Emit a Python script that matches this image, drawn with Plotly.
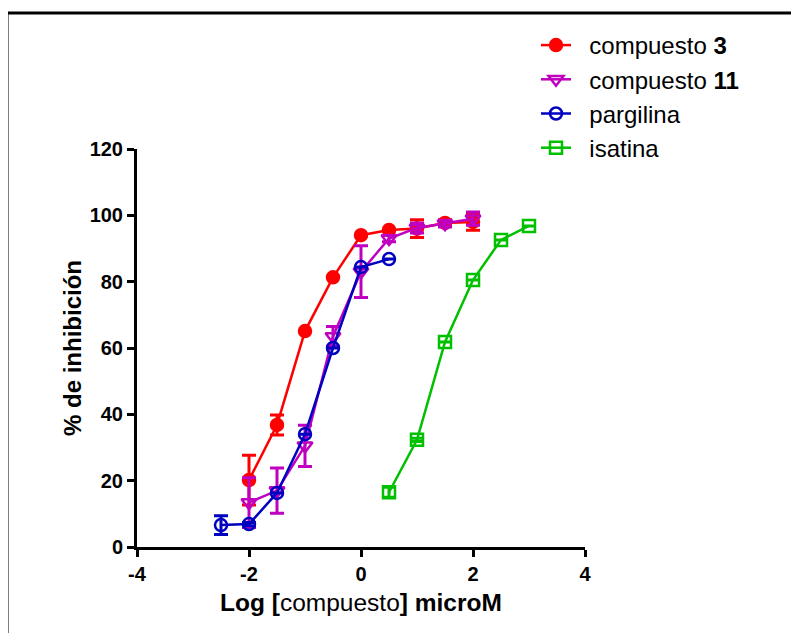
import plotly.graph_objects as go

# --- data ---
x_c3 = [-2, -1.5, -1, -0.5, 0, 0.5, 1, 1.5, 2]
y_c3 = [20.2, 36.8, 65.1, 81.3, 94.0, 95.6, 96.0, 97.7, 98.0]
e_c3 = [7.5, 3.0, 0, 0, 0, 0, 2.7, 1.0, 2.5]

x_c11 = [-2, -1.5, -1, -0.5, 0, 0.5, 1, 1.5, 2]
y_c11 = [13.4, 17.0, 30.5, 63.5, 83.0, 93.0, 96.2, 97.5, 99.0]
e_c11 = [7.5, 6.8, 6.2, 3.0, 7.8, 1.0, 1.5, 1.0, 2.0]

x_parg = [-2.5, -2, -1.5, -1, -0.5, 0, 0.5]
y_parg = [6.6, 6.9, 16.3, 34.0, 60.0, 84.4, 86.8]
e_parg = [2.8, 0.5, 0, 0, 0, 0, 0]

x_isa = [0.5, 1, 1.5, 2, 2.5, 3]
y_isa = [16.5, 32.3, 61.8, 80.5, 92.6, 96.8]
e_isa = [1.5, 0.5, 0, 0, 0, 0]

x_ticks = [-4, -2, 0, 2, 4]
y_ticks = [0, 20, 40, 60, 80, 100, 120]

FONT = "Arial, Liberation Sans, sans-serif"
GAP = "\u00a0\u00a0"

series = [
    (GAP + "compuesto <b>3</b>", x_c3, y_c3, e_c3, "#ff0000", "circle", 12),
    (GAP + "compuesto <b>11</b>", x_c11, y_c11, e_c11, "#c000c0", "triangle-down-open", 13),
    (GAP + "pargilina", x_parg, y_parg, e_parg, "#0000c0", "circle-open", 12),
    (GAP + "isatina", x_isa, y_isa, e_isa, "#00c000", "square-open", 12),
]

fig = go.Figure()
for name, xs, ys, es, col, sym, sz in series:
    fig.add_trace(go.Scatter(
        x=xs, y=ys, name=name, mode="lines+markers",
        line=dict(color=col, width=2.5),
        marker=dict(symbol=sym, size=sz, color=col, line=dict(color=col, width=2.5)),
        error_y=dict(type="data", array=es, visible=True, color=col, thickness=3, width=7),
        cliponaxis=False,
    ))

# page offset (body margin) compensation
OFF = 8
L, T, W, H = 137 - OFF, 149 - OFF, 448, 398
def px(v):
    return (v - OFF - L) / W
def py(v):
    return (T + H - (v - OFF)) / H
frame = dict(color="black", width=3)
fig.add_shape(type="line", xref="paper", yref="paper", x0=px(7), y0=py(13), x1=px(830), y1=py(13), line=frame)
fig.add_shape(type="line", xref="paper", yref="paper", x0=px(7), y0=py(13), x1=px(7), y1=py(660), line=frame)

fig.update_layout(
    width=799, height=633,
    margin=dict(l=L, r=799 - L - W, t=T, b=633 - T - H),
    plot_bgcolor="white", paper_bgcolor="white",
    font=dict(family=FONT, color="black"),
    showlegend=True,
    legend=dict(x=px(536), y=py(23), xanchor="left", yanchor="top",
                font=dict(size=24, family=FONT, color="black"),
                bgcolor="rgba(0,0,0,0)", itemwidth=30),
    xaxis=dict(range=[-4, 4], tickvals=x_ticks, ticktext=[str(v) for v in x_ticks],
               showgrid=False, zeroline=False, showline=True, linecolor="black", linewidth=3,
               ticks="outside", ticklen=7, tickwidth=3, tickcolor="black",
               tickfont=dict(size=20, family=FONT, color="black", weight="bold"),
               title=dict(text="<b>Log [</b>compuesto<b>] microM</b>", font=dict(size=24.5, family=FONT), standoff=10)),
    yaxis=dict(range=[0, 120], tickvals=y_ticks, ticktext=[str(v) for v in y_ticks],
               showgrid=False, zeroline=False, showline=True, linecolor="black", linewidth=3,
               ticks="outside", ticklen=7, tickwidth=3, tickcolor="black",
               tickfont=dict(size=20, family=FONT, color="black", weight="bold"),
               title=dict(text="<b>% de inhibición</b>", font=dict(size=24, family=FONT), standoff=2)),
)

fig.write_html("out.html")
